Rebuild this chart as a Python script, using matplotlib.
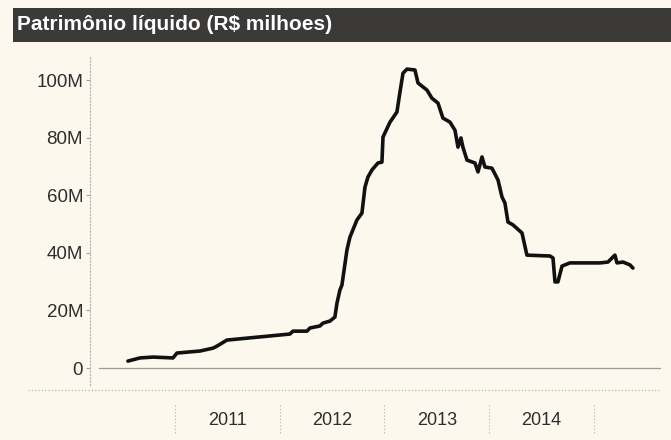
import matplotlib
matplotlib.use("Agg")
import matplotlib.pyplot as plt
import matplotlib.transforms as mtransforms
from matplotlib.patches import Rectangle

plt.rcParams['font.family'] = ['Liberation Sans', 'DejaVu Sans']

title = "Patrimônio líquido (R\\$ milhoes)"

# decimal year of each observation
dates = [2010.551, 2010.666, 2010.790, 2010.981, 2011.019, 2011.239, 2011.363, 2011.401,
         2011.496, 2011.811, 2012.098, 2012.126, 2012.260, 2012.289, 2012.384, 2012.413,
         2012.480, 2012.527, 2012.547, 2012.575, 2012.594, 2012.642, 2012.671, 2012.737,
         2012.785, 2012.814, 2012.842, 2012.881, 2012.938, 2012.976, 2012.986, 2013.053,
         2013.119, 2013.148, 2013.177, 2013.215, 2013.291, 2013.320, 2013.406, 2013.453,
         2013.511, 2013.558, 2013.625, 2013.673, 2013.702, 2013.730, 2013.749, 2013.788,
         2013.864, 2013.893, 2013.931, 2013.959, 2014.026, 2014.084, 2014.122, 2014.150,
         2014.179, 2014.227, 2014.313, 2014.360, 2014.580, 2014.609, 2014.628, 2014.656,
         2014.695, 2014.771, 2015.057, 2015.134, 2015.172, 2015.200, 2015.220, 2015.277,
         2015.344, 2015.372]
# net equity, millions of R$
values = [2.4, 3.5, 3.8, 3.5, 5.2, 5.9, 6.9, 7.6,
          9.7, 10.8, 11.8, 12.8, 12.8, 13.9, 14.6, 15.6,
          16.3, 17.7, 22.6, 27.1, 28.8, 41.0, 45.5, 51.4,
          53.8, 62.8, 66.3, 68.8, 71.2, 71.5, 80.2, 85.4,
          88.9, 95.8, 102.4, 103.8, 103.5, 99.0, 96.5, 93.7,
          92.0, 86.8, 85.4, 82.6, 76.7, 79.9, 76.7, 72.2,
          71.2, 68.1, 73.3, 69.8, 69.4, 65.3, 59.4, 57.3,
          50.7, 49.7, 46.9, 39.2, 38.9, 38.2, 29.9, 29.9,
          35.4, 36.5, 36.5, 36.8, 38.2, 39.2, 36.5, 36.8,
          35.8, 34.7]

yticks = [0, 20, 40, 60, 80, 100]
ytick_labels = ["0", "20M", "40M", "60M", "80M", "100M"]
years = [2011, 2012, 2013, 2014]
year_bounds = [2011, 2012, 2013, 2014, 2015]

W, H = 671, 440
bg = "#fcf8ee"
fig = plt.figure(figsize=(W / 100, H / 100), dpi=100, facecolor=bg)

# title bar
fig.patches.append(Rectangle((13 / W, 1 - 42 / H), 1 - 13 / W, 34 / H,
                             transform=fig.transFigure, facecolor="#3b3a38",
                             edgecolor="none", zorder=0))
fig.text(17 / W, 1 - 25 / H, title, color="white", fontsize=15, fontweight="bold",
         va="center", ha="left")

ax_l, ax_r, ax_t, ax_b = 90, 661, 55, 385
ax = fig.add_axes([ax_l / W, 1 - ax_b / H, (ax_r - ax_l) / W, (ax_b - ax_t) / H])
ax.set_facecolor(bg)

ax.set_xlim(2010.189, 2015.640)
ax.set_ylim(-5.9, 108.7)

ax.plot(dates, values, color="#111111", lw=2.6, solid_joinstyle="round",
        solid_capstyle="round", zorder=3)

# zero line
ax.axhline(0, xmin=9 / (ax_r - ax_l), xmax=1, color="#9a9a9a", lw=0.9, zorder=1)

for s in ["top", "right", "bottom"]:
    ax.spines[s].set_visible(False)
ax.spines["left"].set_linestyle((0, (1, 2)))
ax.spines["left"].set_color("#b0b0b0")
ax.spines["left"].set_linewidth(0.8)

ax.set_yticks(yticks)
ax.set_yticklabels(ytick_labels)
ax.tick_params(axis="y", length=3, width=0.8, color="#a0a0a0", pad=2,
               labelsize=13.5, labelcolor="#2e2e2e")
ax.set_xticks([])

# bottom category band
trans = mtransforms.blended_transform_factory(ax.transData, ax.transAxes)
h = ax_b - ax_t
ax.plot([-(ax_l - 28) / (ax_r - ax_l), 1], [-(390 - ax_b) / h] * 2,
        transform=ax.transAxes, color="#a8a8a8", lw=0.8, ls=(0, (1, 2)), clip_on=False)
for b in year_bounds:
    ax.plot([b, b], [-(405 - ax_b) / h, -(433 - ax_b) / h], transform=trans,
            color="#b0b0b0", lw=0.8, ls=(0, (1, 2)), clip_on=False)
for yr in years:
    ax.text(yr + 0.5, -(420 - ax_b) / h, str(yr), transform=trans, ha="center",
            va="center", fontsize=13, color="#2e2e2e", clip_on=False)

fig.savefig("out.png", dpi=100, facecolor=bg)
